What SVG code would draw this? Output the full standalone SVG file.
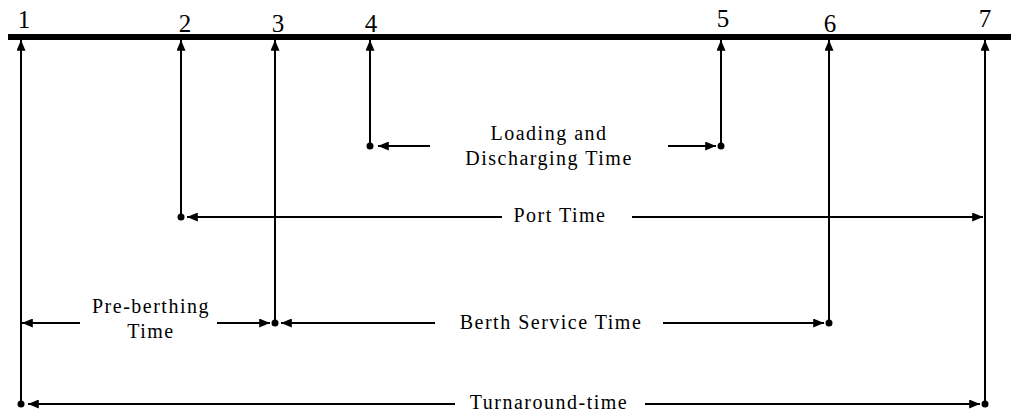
<svg xmlns="http://www.w3.org/2000/svg" width="1011" height="413" viewBox="0 0 1011 413">
<style>
.ln{stroke:#000;stroke-width:2;fill:none}
.t{font-family:"Liberation Serif",serif;font-size:20px;letter-spacing:1.5px;fill:#000;text-anchor:middle}
.n{font-family:"Liberation Serif",serif;font-size:25px;fill:#000;text-anchor:middle}
.d{fill:#000}
</style>
<defs>
<marker id="ah" viewBox="0 0 12 10" refX="12" refY="5" markerWidth="12" markerHeight="9" markerUnits="userSpaceOnUse" orient="auto">
<path d="M0,0 L12,5 L0,10 z" fill="#000"/>
</marker>
</defs>
<rect width="1011" height="413" fill="#fff"/>
<g id="timeline">
<rect x="8" y="34" width="1003" height="6" fill="#000"/>
<text class="n" x="24" y="28">1</text>
<text class="n" x="185" y="32">2</text>
<text class="n" x="278" y="32">3</text>
<text class="n" x="371" y="32">4</text>
<text class="n" x="723" y="27">5</text>
<text class="n" x="830" y="32">6</text>
<text class="n" x="985" y="27">7</text>
</g>
<g id="connectors">
<line class="ln" x1="21" y1="404" x2="21" y2="40" marker-end="url(#ah)"/>
<line class="ln" x1="181" y1="217" x2="181" y2="40" marker-end="url(#ah)"/>
<line class="ln" x1="275" y1="323" x2="275" y2="40" marker-end="url(#ah)"/>
<line class="ln" x1="370" y1="146" x2="370" y2="40" marker-end="url(#ah)"/>
<line class="ln" x1="721" y1="146" x2="721" y2="40" marker-end="url(#ah)"/>
<line class="ln" x1="829" y1="323" x2="829" y2="40" marker-end="url(#ah)"/>
<line class="ln" x1="985" y1="404" x2="985" y2="40" marker-end="url(#ah)"/>
<circle class="d" cx="370" cy="146" r="3.5"/>
<circle class="d" cx="721" cy="146" r="3.5"/>
<circle class="d" cx="181" cy="217" r="3.5"/>
<circle class="d" cx="275" cy="323" r="3.5"/>
<circle class="d" cx="829" cy="323" r="3.5"/>
<circle class="d" cx="21" cy="404" r="3.5"/>
<circle class="d" cx="985" cy="404" r="3.5"/>
<line class="ln" x1="430" y1="146" x2="378" y2="146" marker-end="url(#ah)"/>
<line class="ln" x1="668" y1="146" x2="716" y2="146" marker-end="url(#ah)"/>
<line class="ln" x1="502" y1="217" x2="187" y2="217" marker-end="url(#ah)"/>
<line class="ln" x1="632" y1="217" x2="983" y2="217" marker-end="url(#ah)"/>
<line class="ln" x1="80" y1="323" x2="22" y2="323" marker-end="url(#ah)"/>
<line class="ln" x1="217" y1="323" x2="270" y2="323" marker-end="url(#ah)"/>
<line class="ln" x1="435" y1="323" x2="281" y2="323" marker-end="url(#ah)"/>
<line class="ln" x1="663" y1="323" x2="824" y2="323" marker-end="url(#ah)"/>
<line class="ln" x1="455" y1="404" x2="28" y2="404" marker-end="url(#ah)"/>
<line class="ln" x1="645" y1="404" x2="980" y2="404" marker-end="url(#ah)"/>
</g>
<g id="label-loading">
<text class="t" x="549" y="140">Loading and</text>
<text class="t" x="549" y="165">Discharging Time</text>
</g>
<g id="label-port">
<text class="t" x="560" y="222">Port Time</text>
</g>
<g id="label-preberthing">
<text class="t" x="151" y="313">Pre-berthing</text>
<text class="t" x="151" y="338">Time</text>
</g>
<g id="label-berth">
<text class="t" x="551" y="329">Berth Service Time</text>
</g>
<g id="label-turnaround">
<text class="t" x="549" y="409">Turnaround-time</text>
</g>
</svg>
